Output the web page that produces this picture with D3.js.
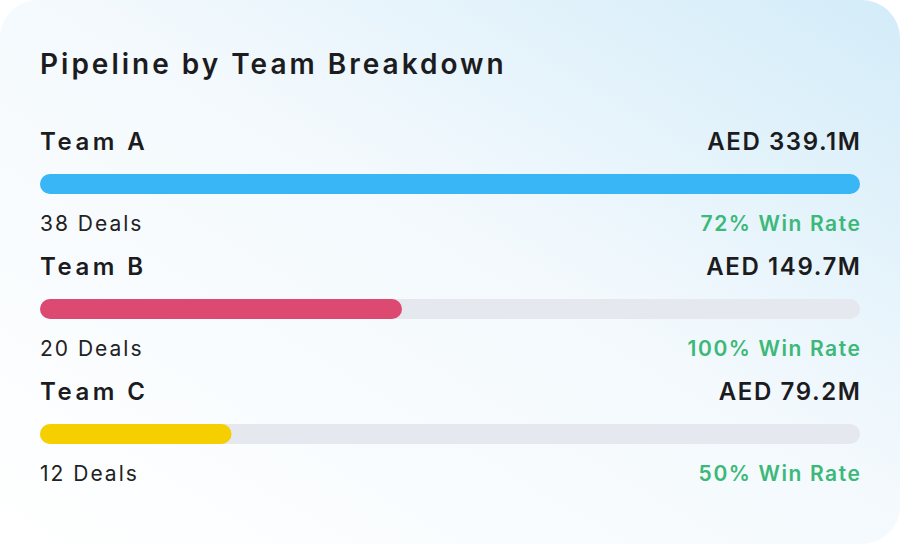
<!DOCTYPE html>
<html>
<head>
<meta charset="utf-8">
<script src="https://cdn.jsdelivr.net/npm/d3@7"></script>
<style>
  body { margin: 0; background: #ffffff; }
  svg { display: block; font-family: "Inter", "Noto Sans", sans-serif; }
</style>
</head>
<body>
<div id="app"></div>
<script>
const teams = ["Team A", "Team B", "Team C"];
const pipeline = [339.1, 149.7, 79.2];
const deals = [38, 20, 12];
const winRates = [72, 100, 50];
const colors = ["#38b6f6", "#dc4a72", "#f5cf00"];

const width = 900, height = 544;
const left = 40, right = 860;

const svg = d3.select('#app').append('svg')
  .attr('width', width)
  .attr('height', height);

const defs = svg.append('defs');
const grad = defs.append('linearGradient')
  .attr('id', 'bg').attr('x1', '0%').attr('y1', '100%').attr('x2', '100%').attr('y2', '0%');
grad.append('stop').attr('offset', '0%').attr('stop-color', '#ffffff');
grad.append('stop').attr('offset', '55%').attr('stop-color', '#f3f9fd');
grad.append('stop').attr('offset', '100%').attr('stop-color', '#d3ecf9');

svg.append('rect')
  .attr('x', 0).attr('y', 0).attr('width', width).attr('height', height)
  .attr('rx', 38).attr('fill', 'url(#bg)');

svg.append('text')
  .attr('x', left).attr('y', 74)
  .attr('font-size', 28).attr('font-weight', 600).attr('fill', '#1c1c1e')
  .attr('letter-spacing', 3)
  .text('Pipeline by Team Breakdown');

const x = d3.scaleLinear().domain([0, d3.max(pipeline)]).range([0, right - left]);
const rowY = d3.scaleBand().domain(teams).range([126, 126 + 3 * 125]);

const row = svg.selectAll('g.row').data(teams).join('g')
  .attr('class', 'row')
  .attr('transform', d => `translate(0,${rowY(d)})`);

row.append('text')
  .attr('x', left).attr('y', 24)
  .attr('font-size', 24).attr('font-weight', 600).attr('fill', '#1c1c1e')
  .attr('letter-spacing', 3.5)
  .text(d => d);

row.append('text')
  .attr('x', right + 1.6).attr('y', 24).attr('text-anchor', 'end')
  .attr('font-size', 24).attr('font-weight', 600).attr('fill', '#1c1c1e')
  .attr('letter-spacing', 1.6)
  .text((d, i) => `AED ${pipeline[i].toFixed(1)}M`);

row.append('rect')
  .attr('x', left).attr('y', 48).attr('height', 20).attr('rx', 10)
  .attr('width', right - left).attr('fill', '#e5e8ef');

row.append('rect')
  .attr('x', left).attr('y', 48).attr('height', 20).attr('rx', 10)
  .attr('width', (d, i) => x(pipeline[i])).attr('fill', (d, i) => colors[i]);

row.append('text')
  .attr('x', left).attr('y', 105)
  .attr('font-size', 21).attr('fill', '#222')
  .attr('letter-spacing', 2)
  .text((d, i) => `${deals[i]} Deals`);

row.append('text')
  .attr('x', right + 1.6).attr('y', 105).attr('text-anchor', 'end')
  .attr('font-size', 21).attr('font-weight', 600).attr('fill', '#3cb878')
  .attr('letter-spacing', 1.6)
  .text((d, i) => `${winRates[i]}% Win Rate`);
</script>
</body>
</html>
